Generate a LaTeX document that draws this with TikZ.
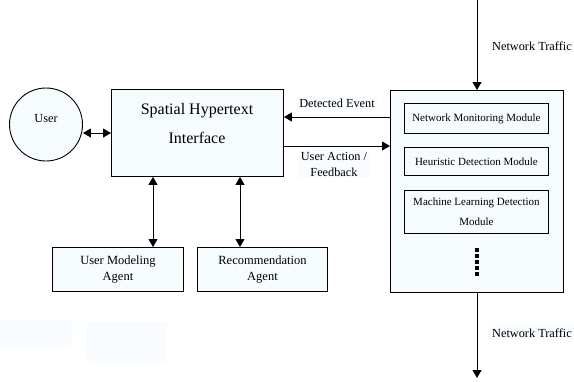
\documentclass[tikz,border=0pt]{standalone}
\usepackage{fontspec}
\setmainfont{Liberation Serif}
\usetikzlibrary{arrows.meta}
\definecolor{boxfill}{HTML}{F6FBFE}
\definecolor{labfill}{HTML}{F8FCFE}
\tikzset{
  blk/.style={draw=black, line width=0.9pt, fill=boxfill},
  modbox/.style={draw=black, line width=0.9pt, fill=boxfill, font=\fontsize{11}{20}\selectfont, align=center},
  agentbox/.style={draw=black, line width=0.9pt, fill=boxfill, font=\fontsize{12.5}{16}\selectfont, align=center},
  lab/.style={fill=labfill, font=\fontsize{12.3}{16}\selectfont, align=center, inner sep=2pt},
  arr/.style={line width=0.9pt, -{Triangle[length=8pt,width=9pt]}},
  darr/.style={line width=0.9pt, {Triangle[length=8pt,width=9pt]}-{Triangle[length=8pt,width=9pt]}},
}
\begin{document}
\begin{tikzpicture}[x=1pt,y=-1pt]
\useasboundingbox[fill=white] (0,0) rectangle (574,381);
% faint background patches
\fill[labfill] (0,320) rectangle (72,348);
\fill[labfill] (87,322) rectangle (167,363);
% user
\node[draw=black, line width=0.9pt, fill=boxfill, circle, minimum size=73pt, inner sep=0pt] (user) at (46,124.5) {};
\node[font=\fontsize{12.3}{14}\selectfont] (usert) at (46,119) {User};
% SHI
\node[blk, minimum width=172pt, minimum height=87pt, anchor=north west, inner sep=0pt] (shi) at (111,89) {};
\node[font=\fontsize{16}{29}\selectfont, align=center] (shit) at (197,124) {Spatial Hypertext\\Interface};
% agents
\node[agentbox, minimum width=131pt, minimum height=44pt, anchor=north west, inner sep=0pt] (uma) at (52,247) {User Modeling\\Agent};
\node[agentbox, minimum width=130pt, minimum height=44pt, anchor=north west, inner sep=0pt] (ra) at (197,247) {Recommendation\\Agent};
% detection system
\node[blk, minimum width=173pt, minimum height=202pt, anchor=north west, inner sep=0pt] (ids) at (390,90) {};
\node[modbox, minimum width=144pt, minimum height=30pt, anchor=north west, inner sep=0pt] (nmm) at (404,103) {Network Monitoring Module};
\node[modbox, minimum width=144pt, minimum height=28pt, anchor=north west, inner sep=0pt] (hdm) at (404,147) {Heuristic Detection Module};
\node[modbox, minimum width=144pt, minimum height=43pt, anchor=north west, inner sep=0pt] (mldm) at (404,190) {Machine Learning Detection\\Module};
\coordinate (dtop) at (477,248);
\coordinate (dbot) at (477,278);
\draw[line width=3.5pt, dash pattern=on 3.5pt off 2.6pt] (dtop) -- (dbot);
% connections
\draw[darr] (user.east |- 0,133) -- (shi.west |- 0,133);
\draw[darr] (shi.south -| 153,0) -- (uma.north -| 153,0);
\draw[darr] (shi.south -| 240,0) -- (ra.north -| 240,0);
\draw[arr] (ids.west |- 0,117) -- (shi.east |- 0,117);
\draw[arr] (shi.east |- 0,146) -- (ids.west |- 0,146);
\coordinate (tin) at (477,0);
\coordinate (tout) at (477,378);
\draw[arr] (tin) -- (ids.north -| tin);
\draw[arr] (ids.south -| tout) -- (tout);
% labels
\node[lab] (l1) at (337,103) {Detected Event};
\node[lab] (l2) at (334,164) {User Action /\\Feedback};
\node[lab] (l3) at (532,46) {Network Traffic};
\node[lab] (l4) at (532,333) {Network Traffic};
\end{tikzpicture}
\end{document}
